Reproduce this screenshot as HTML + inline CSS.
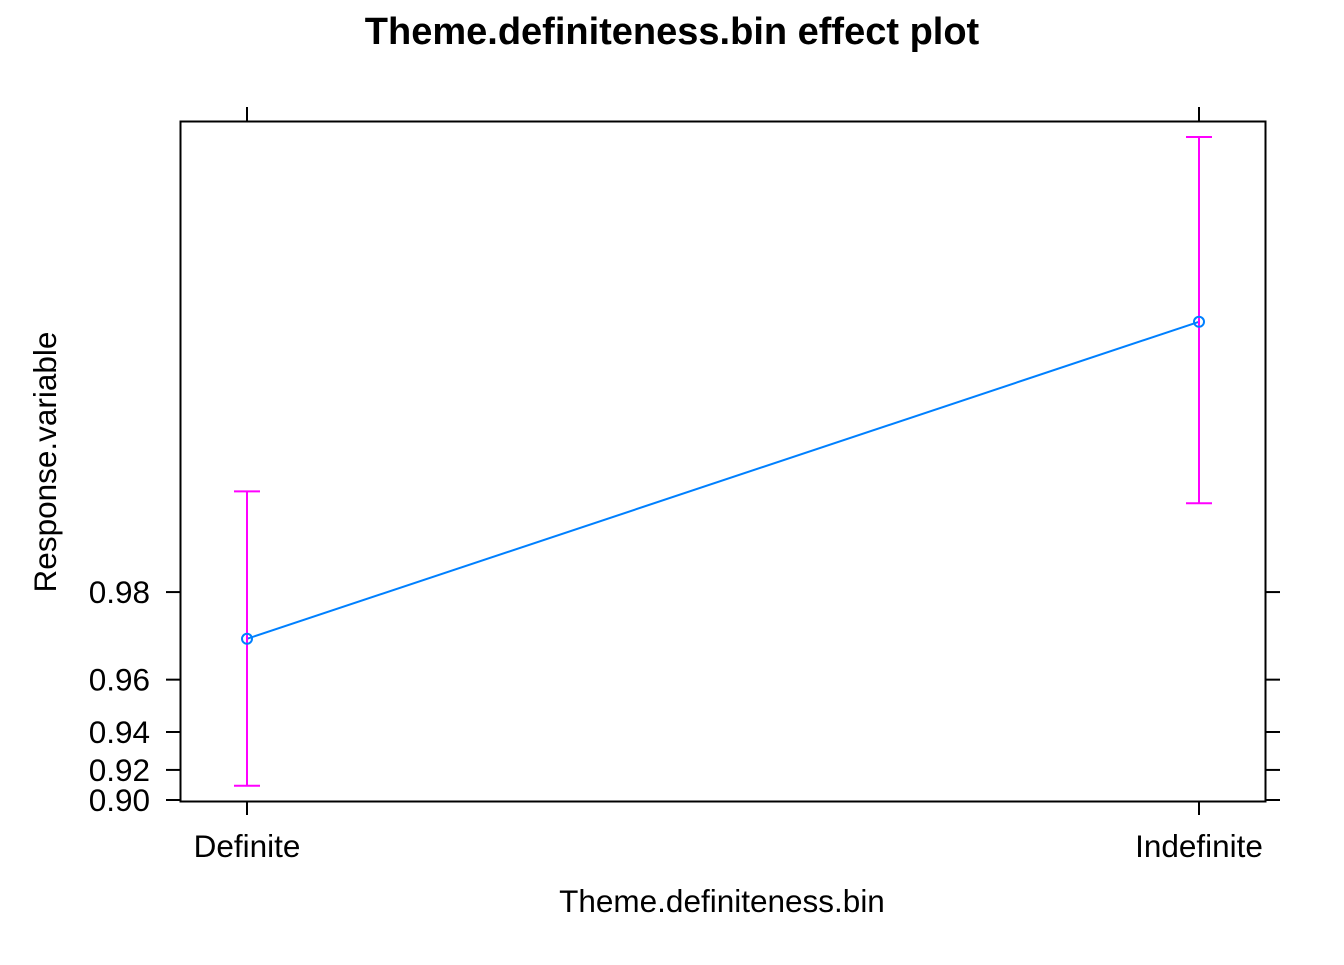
<!DOCTYPE html>
<html><head><meta charset="utf-8"><style>
html,body{margin:0;padding:0;background:#fff;}
svg text{font-family:"Liberation Sans",Arial,sans-serif;}
</style></head><body>
<svg id="chart" width="1344" height="960" xmlns="http://www.w3.org/2000/svg">
<text x="672" y="44" text-anchor="middle" font-size="38" font-weight="bold">Theme.definiteness.bin effect plot</text>
<rect x="180.5" y="121.5" width="1085" height="680" fill="none" stroke="#000" stroke-width="2"/>
<text x="722" y="912" text-anchor="middle" font-size="31.5">Theme.definiteness.bin</text>
<text transform="translate(56,462) rotate(-90)" text-anchor="middle" font-size="31.5">Response.variable</text>
<g id="axes"></g>
<g id="marks"></g>
</svg>
<script>
const categories = ["Definite", "Indefinite"];
const fitValues = [0.971, 0.99775];
const lowerValues = [0.910, 0.9902];
const upperValues = [0.9911, 0.9995];
const yTicks = [0.90, 0.92, 0.94, 0.96, 0.98];
const yTickLabels = ["0.90", "0.92", "0.94", "0.96", "0.98"];

const NS = "http://www.w3.org/2000/svg";
const logit = p => Math.log(p / (1 - p));
const yScale = p => 800 - (logit(p) - logit(0.9)) * 122.7;
const xScale = i => 247 + i * (1199 - 247) / (categories.length - 1);
function mk(tag, attrs, parent) {
  const e = document.createElementNS(NS, tag);
  for (const k in attrs) e.setAttribute(k, attrs[k]);
  parent.appendChild(e);
  return e;
}
const axes = document.getElementById('axes');
const marks = document.getElementById('marks');

yTicks.forEach((t, i) => {
  const y = yScale(t);
  const l = mk('line', {x1: 166, x2: 180, y1: y, y2: y, stroke: '#000', 'stroke-width': 2}, axes);
  
  
  const r = mk('line', {x1: 1266, x2: 1280, y1: y, y2: y, stroke: '#000', 'stroke-width': 2}, axes);
  
  
  const tx = mk('text', {x: 150, y: y + 11, 'text-anchor': 'end', 'font-size': 31.5}, axes);
  tx.textContent = yTickLabels[i];
  
  
});

categories.forEach((c, i) => {
  const x = xScale(i);
  const b = mk('line', {x1: x, x2: x, y1: 801, y2: 815, stroke: '#000', 'stroke-width': 2}, axes);
  
  
  const t = mk('line', {x1: x, x2: x, y1: 107, y2: 121, stroke: '#000', 'stroke-width': 2}, axes);
  
  
  const tx = mk('text', {x: x, y: 857, 'text-anchor': 'middle', 'font-size': 31.5}, axes);
  tx.textContent = c;
  
  
});

const pts = fitValues.map((v, i) => xScale(i) + ',' + yScale(v)).join(' ');
const line = mk('polyline', {points: pts, fill: 'none', stroke: '#0080ff', 'stroke-width': 2}, marks);



categories.forEach((c, i) => {
  const x = xScale(i), yl = yScale(lowerValues[i]), yu = yScale(upperValues[i]);
  const g = mk('g', {stroke: '#ff00ff', 'stroke-width': 2}, marks);
  
  
  mk('line', {x1: x, x2: x, y1: yl, y2: yu}, g);
  mk('line', {x1: x - 13, x2: x + 13, y1: yl, y2: yl}, g);
  mk('line', {x1: x - 13, x2: x + 13, y1: yu, y2: yu}, g);
});

fitValues.forEach((v, i) => {
  const p = mk('circle', {cx: xScale(i), cy: yScale(v), r: 5, fill: 'none', stroke: '#0080ff', 'stroke-width': 2}, marks);
  
  
});
</script>
</body></html>
